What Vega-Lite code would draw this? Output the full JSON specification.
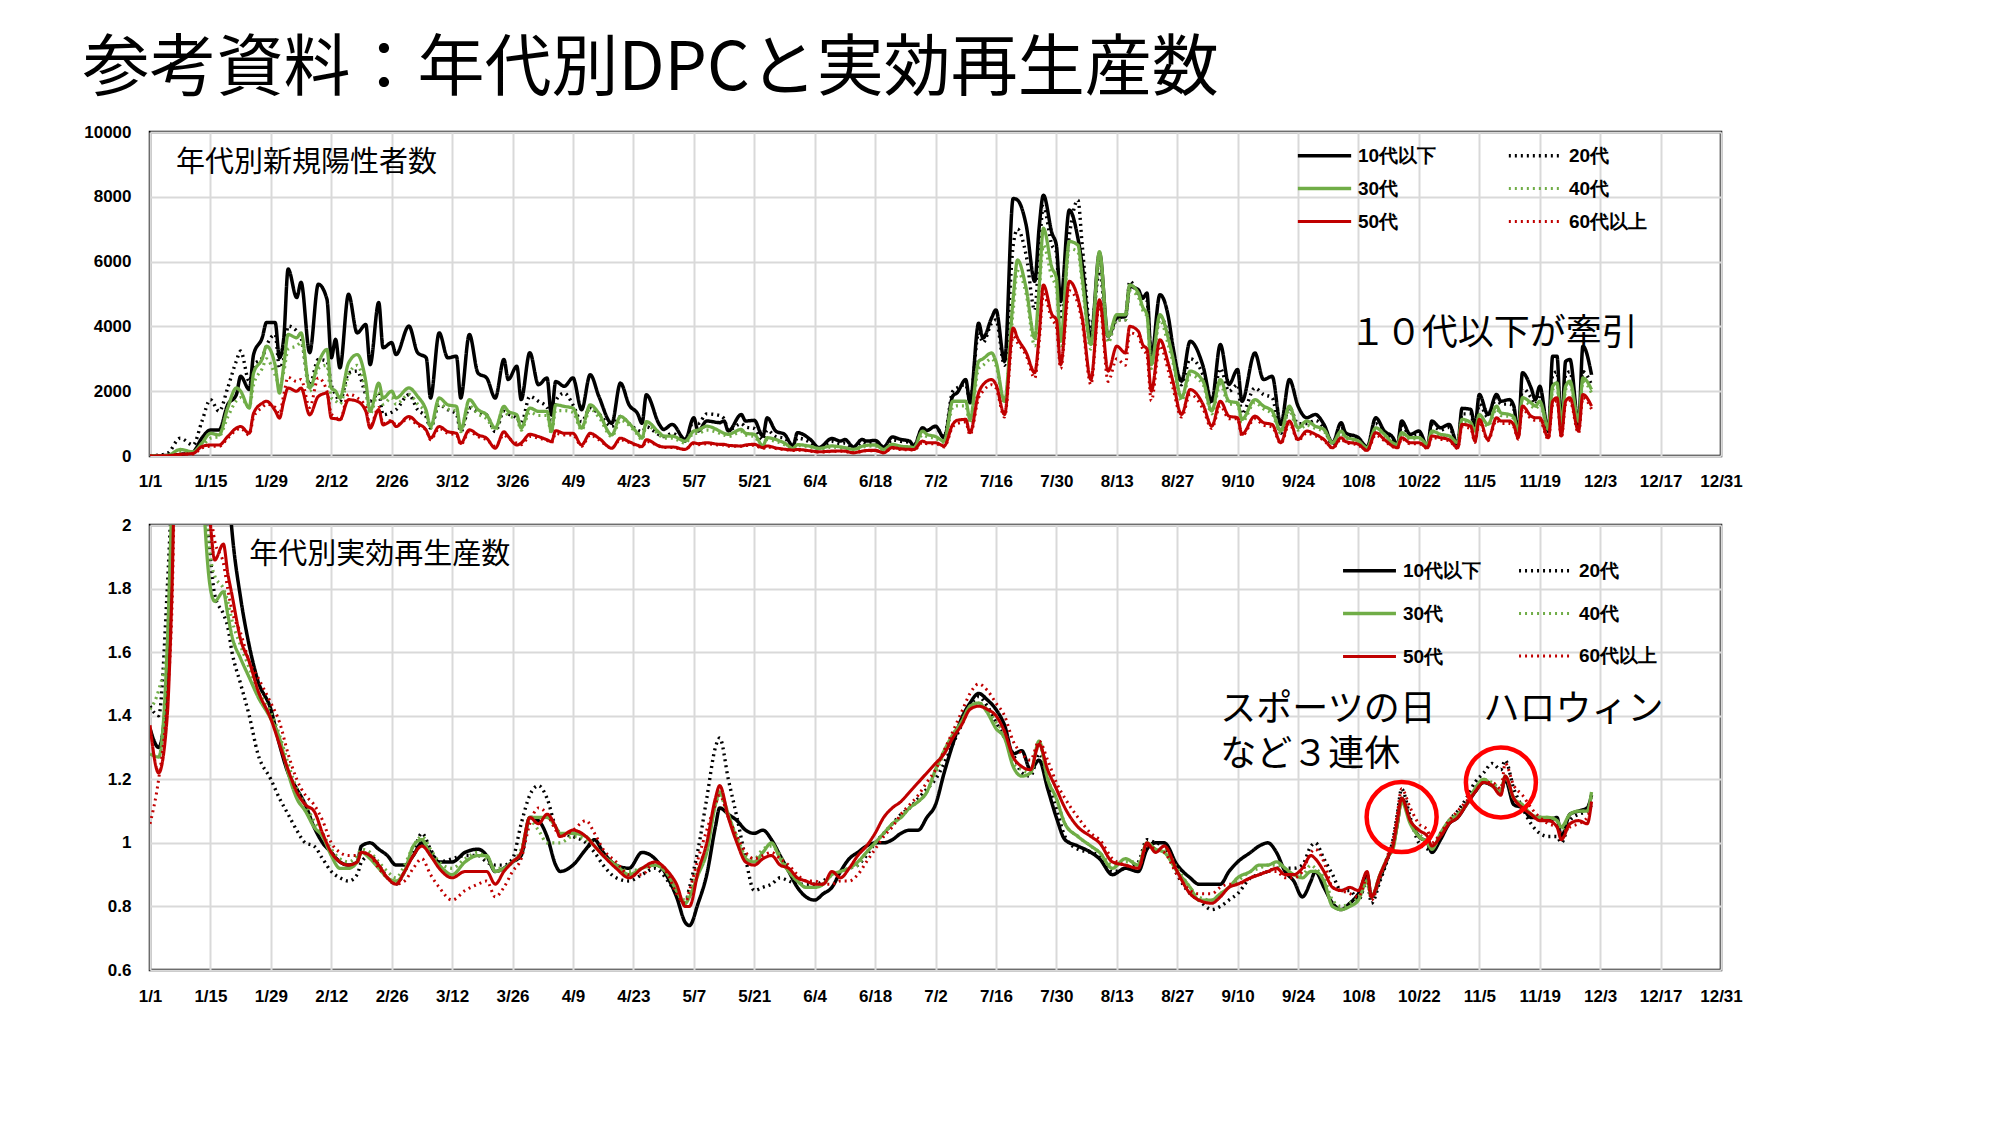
{
  "$schema": "https://vega.github.io/schema/vega-lite/v6.json",
  "background": "white",
  "padding": {"left": 82, "top": 35, "right": 10, "bottom": 10},
  "title": {
    "text": "参考資料：年代別DPCと実効再生産数",
    "anchor": "start",
    "font": "Noto Sans CJK JP",
    "fontSize": 67,
    "fontWeight": "normal",
    "color": "black",
    "offset": 18
  },
  "config": {
    "view": {"stroke": "black", "strokeWidth": 2.5},
    "axis": {
      "labelFont": "Liberation Sans",
      "labelFontWeight": "bold",
      "labelFontSize": 17,
      "labelColor": "black",
      "grid": true,
      "gridColor": "#d9d9d9",
      "gridWidth": 2,
      "ticks": false,
      "domain": false,
      "title": null
    },
    "legend": {
      "title": null,
      "orient": "none",
      "direction": "horizontal",
      "columns": 2,
      "symbolStrokeWidth": 3,
      "labelFont": "Liberation Sans",
      "labelFontWeight": "bold",
      "labelFontSize": 19,
      "labelColor": "black",
      "padding": 0
    }
  },
  "datasets": {
    "cases": [
      {"date": "2022-01-01", "10代以下": 0, "20代": 0, "30代": 0, "40代": 0, "50代": 0, "60代以上": 0},
      {"date": "2022-01-05", "10代以下": 20, "20代": 80, "30代": 15, "40代": 15, "50代": 10, "60代以上": 10},
      {"date": "2022-01-08", "10代以下": 50, "20代": 550, "30代": 200, "40代": 150, "50代": 50, "60代以上": 50},
      {"date": "2022-01-11", "10代以下": 130, "20代": 340, "30代": 130, "40代": 100, "50代": 80, "60代以上": 60},
      {"date": "2022-01-13", "10代以下": 550, "20代": 1060, "30代": 390, "40代": 300, "50代": 290, "60代以上": 250},
      {"date": "2022-01-15", "10代以下": 800, "20代": 1740, "30代": 700, "40代": 550, "50代": 340, "60代以上": 300},
      {"date": "2022-01-17", "10代以下": 800, "20代": 1380, "30代": 650, "40代": 600, "50代": 340, "60代以上": 300},
      {"date": "2022-01-19", "10代以下": 1580, "20代": 2100, "30代": 1480, "40代": 1200, "50代": 600, "60代以上": 550},
      {"date": "2022-01-21", "10代以下": 1890, "20代": 2930, "30代": 2100, "40代": 1700, "50代": 860, "60代以上": 800},
      {"date": "2022-01-22", "10代以下": 2460, "20代": 3240, "30代": 2000, "40代": 1800, "50代": 910, "60代以上": 850},
      {"date": "2022-01-24", "10代以下": 2050, "20代": 2300, "30代": 1480, "40代": 1500, "50代": 700, "60代以上": 650},
      {"date": "2022-01-25", "10代以下": 3130, "20代": 2800, "30代": 2560, "40代": 2200, "50代": 1320, "60代以上": 1200},
      {"date": "2022-01-27", "10代以下": 3650, "20代": 3030, "30代": 3000, "40代": 2700, "50代": 1630, "60代以上": 1500},
      {"date": "2022-01-28", "10代以下": 4120, "20代": 3400, "30代": 3390, "40代": 3000, "50代": 1690, "60代以上": 1600},
      {"date": "2022-01-30", "10代以下": 4120, "20代": 3750, "30代": 2800, "40代": 2500, "50代": 1400, "60代以上": 1500},
      {"date": "2022-01-31", "10代以下": 3030, "20代": 2720, "30代": 1940, "40代": 2200, "50代": 1170, "60代以上": 1300},
      {"date": "2022-02-01", "10代以下": 3650, "20代": 3000, "30代": 2800, "40代": 2600, "50代": 1700, "60代以上": 1900},
      {"date": "2022-02-02", "10代以下": 5770, "20代": 4010, "30代": 3750, "40代": 3300, "50代": 2100, "60代以上": 2430},
      {"date": "2022-02-04", "10代以下": 4890, "20代": 3860, "30代": 3650, "40代": 3400, "50代": 2000, "60代以上": 2300},
      {"date": "2022-02-05", "10代以下": 5360, "20代": 3650, "30代": 3800, "40代": 3500, "50代": 2100, "60代以上": 2360},
      {"date": "2022-02-07", "10代以下": 3190, "20代": 2200, "30代": 2100, "40代": 2000, "50代": 1270, "60代以上": 1500},
      {"date": "2022-02-09", "10代以下": 5300, "20代": 2980, "30代": 2870, "40代": 2700, "50代": 1840, "60代以上": 2410},
      {"date": "2022-02-11", "10代以下": 4840, "20代": 2930, "30代": 3290, "40代": 2800, "50代": 1940, "60代以上": 2000},
      {"date": "2022-02-12", "10代以下": 3030, "20代": 2200, "30代": 2100, "40代": 1800, "50代": 1170, "60代以上": 1300},
      {"date": "2022-02-13", "10代以下": 3600, "20代": 1900, "30代": 2000, "40代": 1700, "50代": 1150, "60代以上": 1200},
      {"date": "2022-02-14", "10代以下": 2720, "20代": 1690, "30代": 1790, "40代": 1600, "50代": 1120, "60代以上": 1100},
      {"date": "2022-02-16", "10代以下": 4990, "20代": 2560, "30代": 2870, "40代": 2500, "50代": 1740, "60代以上": 1900},
      {"date": "2022-02-18", "10代以下": 3800, "20代": 2620, "30代": 3130, "40代": 2800, "50代": 1690, "60代以上": 1800},
      {"date": "2022-02-20", "10代以下": 4060, "20代": 1900, "30代": 2300, "40代": 2000, "50代": 1380, "60代以上": 1500},
      {"date": "2022-02-21", "10代以下": 2820, "20代": 1690, "30代": 1380, "40代": 1300, "50代": 860, "60代以上": 900},
      {"date": "2022-02-23", "10代以下": 4740, "20代": 1940, "30代": 2250, "40代": 2000, "50代": 1430, "60代以上": 1500},
      {"date": "2022-02-24", "10代以下": 3340, "20代": 1270, "30代": 1790, "40代": 1600, "50代": 960, "60代以上": 1000},
      {"date": "2022-02-26", "10代以下": 3500, "20代": 1350, "30代": 2000, "40代": 1800, "50代": 1070, "60代以上": 1100},
      {"date": "2022-02-27", "10代以下": 3130, "20代": 1430, "30代": 1790, "40代": 1600, "50代": 910, "60代以上": 950},
      {"date": "2022-03-02", "10代以下": 4010, "20代": 1890, "30代": 2100, "40代": 1900, "50代": 1220, "60代以上": 1150},
      {"date": "2022-03-04", "10代以下": 3190, "20代": 1430, "30代": 1840, "40代": 1600, "50代": 1010, "60代以上": 950},
      {"date": "2022-03-06", "10代以下": 3030, "20代": 1200, "30代": 1400, "40代": 1300, "50代": 800, "60代以上": 800},
      {"date": "2022-03-07", "10代以下": 1790, "20代": 860, "30代": 910, "40代": 850, "50代": 550, "60代以上": 500},
      {"date": "2022-03-09", "10代以下": 3800, "20代": 1580, "30代": 1790, "40代": 1600, "50代": 910, "60代以上": 850},
      {"date": "2022-03-11", "10代以下": 3030, "20代": 1430, "30代": 1580, "40代": 1450, "50代": 750, "60代以上": 700},
      {"date": "2022-03-13", "10代以下": 3080, "20代": 1300, "30代": 1530, "40代": 1400, "50代": 700, "60代以上": 650},
      {"date": "2022-03-14", "10代以下": 1790, "20代": 750, "30代": 810, "40代": 750, "50代": 390, "60代以上": 350},
      {"date": "2022-03-16", "10代以下": 3750, "20代": 1480, "30代": 1740, "40代": 1550, "50代": 810, "60代以上": 750},
      {"date": "2022-03-18", "10代以下": 2560, "20代": 1350, "30代": 1430, "40代": 1300, "50代": 650, "60代以上": 600},
      {"date": "2022-03-20", "10代以下": 2410, "20代": 1270, "30代": 1270, "40代": 1150, "50代": 550, "60代以上": 500},
      {"date": "2022-03-22", "10代以下": 1790, "20代": 750, "30代": 860, "40代": 800, "50代": 240, "60代以上": 300},
      {"date": "2022-03-24", "10代以下": 2980, "20代": 1380, "30代": 1530, "40代": 1400, "50代": 750, "60代以上": 650},
      {"date": "2022-03-25", "10代以下": 2360, "20代": 1300, "30代": 1380, "40代": 1250, "50代": 600, "60代以上": 550},
      {"date": "2022-03-27", "10代以下": 2770, "20代": 1170, "30代": 1270, "40代": 1150, "50代": 340, "60代以上": 400},
      {"date": "2022-03-28", "10代以下": 1740, "20代": 1000, "30代": 860, "40代": 800, "50代": 400, "60代以上": 350},
      {"date": "2022-03-30", "10代以下": 3190, "20代": 1840, "30代": 1480, "40代": 1350, "50代": 670, "60代以上": 600},
      {"date": "2022-04-01", "10代以下": 2200, "20代": 1690, "30代": 1380, "40代": 1250, "50代": 600, "60代以上": 550},
      {"date": "2022-04-03", "10代以下": 2410, "20代": 1500, "30代": 1380, "40代": 1250, "50代": 500, "60代以上": 480},
      {"date": "2022-04-04", "10代以下": 1270, "20代": 1100, "30代": 750, "40代": 700, "50代": 440, "60代以上": 400},
      {"date": "2022-04-05", "10代以下": 2300, "20代": 1700, "30代": 1580, "40代": 1400, "50代": 780, "60代以上": 700},
      {"date": "2022-04-07", "10代以下": 2150, "20代": 1940, "30代": 1530, "40代": 1400, "50代": 700, "60代以上": 650},
      {"date": "2022-04-09", "10代以下": 2410, "20代": 1580, "30代": 1480, "40代": 1350, "50代": 700, "60代以上": 650},
      {"date": "2022-04-11", "10代以下": 1430, "20代": 1060, "30代": 860, "40代": 800, "50代": 340, "60代以上": 300},
      {"date": "2022-04-13", "10代以下": 2510, "20代": 1480, "30代": 1580, "40代": 1450, "50代": 700, "60代以上": 650},
      {"date": "2022-04-15", "10代以下": 1840, "20代": 1300, "30代": 1320, "40代": 1200, "50代": 550, "60代以上": 500},
      {"date": "2022-04-18", "10代以下": 1010, "20代": 910, "30代": 650, "40代": 600, "50代": 240, "60代以上": 250},
      {"date": "2022-04-20", "10代以下": 2250, "20代": 1220, "30代": 1220, "40代": 1100, "50代": 550, "60代以上": 500},
      {"date": "2022-04-22", "10代以下": 1580, "20代": 1000, "30代": 1010, "40代": 950, "50代": 440, "60代以上": 420},
      {"date": "2022-04-24", "10代以下": 1300, "20代": 800, "30代": 700, "40代": 650, "50代": 330, "60代以上": 300},
      {"date": "2022-04-25", "10代以下": 1010, "20代": 750, "30代": 550, "40代": 500, "50代": 290, "60代以上": 270},
      {"date": "2022-04-26", "10代以下": 1890, "20代": 900, "30代": 1060, "40代": 950, "50代": 500, "60代以上": 450},
      {"date": "2022-04-29", "10代以下": 975, "20代": 650, "30代": 720, "40代": 650, "50代": 310, "60代以上": 300},
      {"date": "2022-04-30", "10代以下": 820, "20代": 600, "30代": 615, "40代": 550, "50代": 280, "60代以上": 260},
      {"date": "2022-05-02", "10代以下": 975, "20代": 700, "30代": 615, "40代": 550, "50代": 280, "60代以上": 260},
      {"date": "2022-05-05", "10代以下": 510, "20代": 450, "30代": 460, "40代": 400, "50代": 205, "60代以上": 200},
      {"date": "2022-05-07", "10代以下": 1180, "20代": 1100, "30代": 770, "40代": 700, "50代": 410, "60代以上": 380},
      {"date": "2022-05-08", "10代以下": 770, "20代": 1000, "30代": 800, "40代": 700, "50代": 380, "60代以上": 350},
      {"date": "2022-05-10", "10代以下": 1080, "20代": 1300, "30代": 920, "40代": 800, "50代": 410, "60代以上": 380},
      {"date": "2022-05-13", "10代以下": 1030, "20代": 1250, "30代": 770, "40代": 700, "50代": 360, "60代以上": 340},
      {"date": "2022-05-14", "10代以下": 1080, "20代": 1150, "30代": 700, "40代": 650, "50代": 360, "60代以上": 340},
      {"date": "2022-05-15", "10代以下": 770, "20代": 800, "30代": 670, "40代": 600, "50代": 330, "60代以上": 300},
      {"date": "2022-05-18", "10代以下": 1280, "20代": 1000, "30代": 820, "40代": 750, "50代": 310, "60代以上": 300},
      {"date": "2022-05-19", "10代以下": 1080, "20代": 900, "30代": 700, "40代": 650, "50代": 340, "60代以上": 320},
      {"date": "2022-05-21", "10代以下": 1100, "20代": 850, "30代": 670, "40代": 600, "50代": 360, "60代以上": 330},
      {"date": "2022-05-23", "10代以下": 615, "20代": 500, "30代": 310, "40代": 280, "50代": 260, "60代以上": 230},
      {"date": "2022-05-24", "10代以下": 1180, "20代": 800, "30代": 565, "40代": 500, "50代": 310, "60代以上": 280},
      {"date": "2022-05-26", "10代以下": 770, "20代": 600, "30代": 510, "40代": 450, "50代": 250, "60代以上": 230},
      {"date": "2022-05-28", "10代以下": 670, "20代": 550, "30代": 400, "40代": 350, "50代": 210, "60代以上": 200},
      {"date": "2022-05-30", "10代以下": 310, "20代": 280, "30代": 235, "40代": 210, "50代": 185, "60代以上": 170},
      {"date": "2022-05-31", "10代以下": 720, "20代": 550, "30代": 350, "40代": 320, "50代": 200, "60代以上": 180},
      {"date": "2022-06-03", "10代以下": 510, "20代": 420, "30代": 300, "40代": 280, "50代": 160, "60代以上": 150},
      {"date": "2022-06-05", "10代以下": 260, "20代": 220, "30代": 235, "40代": 210, "50代": 130, "60代以上": 120},
      {"date": "2022-06-08", "10代以下": 540, "20代": 450, "30代": 310, "40代": 280, "50代": 150, "60代以上": 140},
      {"date": "2022-06-10", "10代以下": 460, "20代": 380, "30代": 280, "40代": 250, "50代": 155, "60代以上": 145},
      {"date": "2022-06-11", "10代以下": 510, "20代": 400, "30代": 260, "40代": 240, "50代": 150, "60代以上": 140},
      {"date": "2022-06-13", "10代以下": 280, "20代": 240, "30代": 205, "40代": 190, "50代": 100, "60代以上": 100},
      {"date": "2022-06-15", "10代以下": 510, "20代": 420, "30代": 300, "40代": 270, "50代": 150, "60代以上": 140},
      {"date": "2022-06-16", "10代以下": 460, "20代": 380, "30代": 330, "40代": 300, "50代": 170, "60代以上": 160},
      {"date": "2022-06-18", "10代以下": 480, "20代": 400, "30代": 340, "40代": 310, "50代": 175, "60代以上": 165},
      {"date": "2022-06-20", "10代以下": 280, "20代": 240, "30代": 205, "40代": 190, "50代": 100, "60代以上": 100},
      {"date": "2022-06-22", "10代以下": 585, "20代": 500, "30代": 360, "40代": 330, "50代": 260, "60代以上": 240},
      {"date": "2022-06-24", "10代以下": 510, "20代": 450, "30代": 300, "40代": 280, "50代": 220, "60代以上": 200},
      {"date": "2022-06-26", "10代以下": 460, "20代": 420, "30代": 280, "40代": 260, "50代": 205, "60代以上": 190},
      {"date": "2022-06-27", "10代以下": 310, "20代": 300, "30代": 260, "40代": 240, "50代": 200, "60代以上": 180},
      {"date": "2022-06-29", "10代以下": 870, "20代": 850, "30代": 770, "40代": 650, "50代": 460, "60代以上": 420},
      {"date": "2022-06-30", "10代以下": 790, "20代": 800, "30代": 670, "40代": 600, "50代": 410, "60代以上": 380},
      {"date": "2022-07-02", "10代以下": 920, "20代": 900, "30代": 600, "40代": 550, "50代": 410, "60代以上": 380},
      {"date": "2022-07-04", "10代以下": 560, "20代": 600, "30代": 460, "40代": 420, "50代": 310, "60代以上": 280},
      {"date": "2022-07-06", "10代以下": 1850, "20代": 2000, "30代": 1690, "40代": 1500, "50代": 975, "60代以上": 900},
      {"date": "2022-07-07", "10代以下": 1950, "20代": 2100, "30代": 1690, "40代": 1550, "50代": 1100, "60代以上": 1000},
      {"date": "2022-07-09", "10代以下": 2360, "20代": 2200, "30代": 1690, "40代": 1550, "50代": 1130, "60代以上": 1050},
      {"date": "2022-07-10", "10代以下": 1640, "20代": 1700, "30代": 1130, "40代": 1000, "50代": 720, "60代以上": 650},
      {"date": "2022-07-12", "10代以下": 4100, "20代": 3800, "30代": 2920, "40代": 2700, "50代": 1950, "60代以上": 1800},
      {"date": "2022-07-13", "10代以下": 3640, "20代": 3500, "30代": 3000, "40代": 2800, "50代": 2200, "60代以上": 2000},
      {"date": "2022-07-15", "10代以下": 4260, "20代": 4100, "30代": 3180, "40代": 3000, "50代": 2360, "60代以上": 2200},
      {"date": "2022-07-16", "10代以下": 4510, "20代": 4200, "30代": 2920, "40代": 2800, "50代": 2210, "60代以上": 2100},
      {"date": "2022-07-18", "10代以下": 2920, "20代": 2800, "30代": 1690, "40代": 1600, "50代": 1280, "60代以上": 1200},
      {"date": "2022-07-20", "10代以下": 7950, "20代": 6500, "30代": 4870, "40代": 4500, "50代": 3950, "60代以上": 3700},
      {"date": "2022-07-21", "10代以下": 7900, "20代": 7000, "30代": 6050, "40代": 5700, "50代": 3640, "60代以上": 3500},
      {"date": "2022-07-23", "10代以下": 7130, "20代": 6200, "30代": 5180, "40代": 5000, "50代": 3200, "60代以上": 3100},
      {"date": "2022-07-25", "10代以下": 5390, "20代": 4500, "30代": 3640, "40代": 3400, "50代": 2570, "60代以上": 2400},
      {"date": "2022-07-26", "10代以下": 7030, "20代": 6300, "30代": 5180, "40代": 5000, "50代": 3690, "60代以上": 3500},
      {"date": "2022-07-27", "10代以下": 8050, "20代": 7700, "30代": 7030, "40代": 6500, "50代": 5280, "60代以上": 5000},
      {"date": "2022-07-29", "10代以下": 6870, "20代": 6500, "30代": 5800, "40代": 5500, "50代": 4360, "60代以上": 4200},
      {"date": "2022-07-30", "10代以下": 6510, "20代": 6300, "30代": 5500, "40代": 5200, "50代": 4210, "60代以上": 4000},
      {"date": "2022-07-31", "10代以下": 4770, "20代": 4200, "30代": 3540, "40代": 3400, "50代": 2820, "60代以上": 2700},
      {"date": "2022-08-02", "10代以下": 7590, "20代": 6800, "30代": 6620, "40代": 6400, "50代": 5390, "60代以上": 5100},
      {"date": "2022-08-04", "10代以下": 6720, "20代": 7900, "30代": 6510, "40代": 6300, "50代": 4870, "60代以上": 4700},
      {"date": "2022-08-05", "10代以下": 5900, "20代": 6500, "30代": 5500, "40代": 5300, "50代": 4260, "60代以上": 4100},
      {"date": "2022-08-07", "10代以下": 3640, "20代": 3900, "30代": 3440, "40代": 3300, "50代": 2360, "60代以上": 2200},
      {"date": "2022-08-09", "10代以下": 6260, "20代": 5700, "30代": 6310, "40代": 6000, "50代": 4820, "60代以上": 4700},
      {"date": "2022-08-11", "10代以下": 3690, "20代": 3600, "30代": 3690, "40代": 3500, "50代": 2620, "60代以上": 2300},
      {"date": "2022-08-13", "10代以下": 4260, "20代": 4200, "30代": 4360, "40代": 4200, "50代": 3390, "60代以上": 3000},
      {"date": "2022-08-15", "10代以下": 4310, "20代": 4200, "30代": 4360, "40代": 4200, "50代": 3180, "60代以上": 2800},
      {"date": "2022-08-16", "10代以下": 5230, "20代": 5400, "30代": 5280, "40代": 5100, "50代": 4000, "60代以上": 3800},
      {"date": "2022-08-18", "10代以下": 5130, "20代": 5000, "30代": 5030, "40代": 4900, "50代": 3850, "60代以上": 3700},
      {"date": "2022-08-19", "10代以下": 4870, "20代": 4900, "30代": 4600, "40代": 4500, "50代": 3440, "60代以上": 3300},
      {"date": "2022-08-20", "10代以下": 5030, "20代": 4800, "30代": 4360, "40代": 4300, "50代": 3300, "60代以上": 3100},
      {"date": "2022-08-21", "10代以下": 3030, "20代": 3000, "30代": 2820, "40代": 2700, "50代": 2000, "60代以上": 1700},
      {"date": "2022-08-23", "10代以下": 4980, "20代": 4300, "30代": 4360, "40代": 4200, "50代": 3590, "60代以上": 3400},
      {"date": "2022-08-25", "10代以下": 4260, "20代": 3700, "30代": 3600, "40代": 3400, "50代": 2820, "60代以上": 2600},
      {"date": "2022-08-26", "10代以下": 3390, "20代": 3100, "30代": 3030, "40代": 2900, "50代": 2310, "60代以上": 2100},
      {"date": "2022-08-28", "10代以下": 2310, "20代": 2200, "30代": 1800, "40代": 1700, "50代": 1280, "60代以上": 1200},
      {"date": "2022-08-30", "10代以下": 3540, "20代": 3000, "30代": 2620, "40代": 2500, "50代": 2050, "60代以上": 1900},
      {"date": "2022-09-02", "10代以下": 2770, "20代": 2500, "30代": 2310, "40代": 2200, "50代": 1590, "60代以上": 1450},
      {"date": "2022-09-04", "10代以下": 1690, "20代": 1600, "30代": 1390, "40代": 1300, "50代": 920, "60代以上": 850},
      {"date": "2022-09-06", "10代以下": 3440, "20代": 2700, "30代": 2360, "40代": 2200, "50代": 1690, "60代以上": 1550},
      {"date": "2022-09-08", "10代以下": 2210, "20代": 2000, "30代": 1690, "40代": 1600, "50代": 1230, "60代以上": 1150},
      {"date": "2022-09-10", "10代以下": 2670, "20代": 2200, "30代": 1640, "40代": 1600, "50代": 1180, "60代以上": 1150},
      {"date": "2022-09-11", "10代以下": 1690, "20代": 1300, "30代": 1130, "40代": 1050, "50代": 670, "60代以上": 620},
      {"date": "2022-09-14", "10代以下": 3180, "20代": 2100, "30代": 1740, "40代": 1650, "50代": 1230, "60代以上": 1150},
      {"date": "2022-09-16", "10代以下": 2360, "20代": 1900, "30代": 1540, "40代": 1450, "50代": 1030, "60代以上": 950},
      {"date": "2022-09-18", "10代以下": 2460, "20代": 1800, "30代": 1390, "40代": 1300, "50代": 975, "60代以上": 900},
      {"date": "2022-09-20", "10代以下": 975, "20代": 700, "30代": 770, "40代": 700, "50代": 410, "60代以上": 380},
      {"date": "2022-09-22", "10代以下": 2360, "20代": 1500, "30代": 1540, "40代": 1400, "50代": 1080, "60代以上": 1000},
      {"date": "2022-09-24", "10代以下": 1540, "20代": 1000, "30代": 870, "40代": 800, "50代": 510, "60代以上": 480},
      {"date": "2022-09-26", "10代以下": 1180, "20代": 1000, "30代": 1080, "40代": 950, "50代": 770, "60代以上": 700},
      {"date": "2022-09-28", "10代以下": 1280, "20代": 1100, "30代": 920, "40代": 850, "50代": 670, "60代以上": 620},
      {"date": "2022-09-30", "10代以下": 975, "20代": 850, "30代": 820, "40代": 760, "50代": 510, "60代以上": 480},
      {"date": "2022-10-02", "10代以下": 410, "20代": 350, "30代": 410, "40代": 380, "50代": 255, "60代以上": 240},
      {"date": "2022-10-04", "10代以下": 1030, "20代": 850, "30代": 770, "40代": 700, "50代": 565, "60代以上": 520},
      {"date": "2022-10-05", "10代以下": 720, "20代": 650, "30代": 600, "40代": 560, "50代": 450, "60代以上": 420},
      {"date": "2022-10-08", "10代以下": 565, "20代": 500, "30代": 460, "40代": 430, "50代": 360, "60代以上": 330},
      {"date": "2022-10-10", "10代以下": 280, "20代": 250, "30代": 255, "40代": 240, "50代": 175, "60代以上": 160},
      {"date": "2022-10-12", "10代以下": 1180, "20代": 1000, "30代": 870, "40代": 800, "50代": 720, "60代以上": 650},
      {"date": "2022-10-14", "10代以下": 770, "20代": 700, "30代": 670, "40代": 620, "50代": 510, "60代以上": 470},
      {"date": "2022-10-16", "10代以下": 565, "20代": 520, "30代": 400, "40代": 380, "50代": 300, "60代以上": 280},
      {"date": "2022-10-17", "10代以下": 310, "20代": 300, "30代": 360, "40代": 330, "50代": 255, "60代以上": 230},
      {"date": "2022-10-18", "10代以下": 1080, "20代": 950, "30代": 720, "40代": 680, "50代": 565, "60代以上": 530},
      {"date": "2022-10-20", "10代以下": 670, "20代": 620, "30代": 565, "40代": 530, "50代": 410, "60代以上": 380},
      {"date": "2022-10-22", "10代以下": 770, "20代": 700, "30代": 565, "40代": 530, "50代": 410, "60代以上": 380},
      {"date": "2022-10-24", "10代以下": 310, "20代": 300, "30代": 360, "40代": 330, "50代": 255, "60代以上": 230},
      {"date": "2022-10-25", "10代以下": 1080, "20代": 950, "30代": 770, "40代": 720, "50代": 615, "60代以上": 570},
      {"date": "2022-10-27", "10代以下": 870, "20代": 800, "30代": 670, "40代": 630, "50代": 565, "60代以上": 520},
      {"date": "2022-10-29", "10代以下": 975, "20代": 880, "30代": 620, "40代": 600, "50代": 500, "60代以上": 470},
      {"date": "2022-10-31", "10代以下": 360, "20代": 350, "30代": 410, "40代": 380, "50代": 255, "60代以上": 230},
      {"date": "2022-11-01", "10代以下": 1470, "20代": 1300, "30代": 1130, "40代": 1050, "50代": 975, "60代以上": 900},
      {"date": "2022-11-03", "10代以下": 1440, "20代": 1300, "30代": 1030, "40代": 980, "50代": 920, "60代以上": 850},
      {"date": "2022-11-04", "10代以下": 920, "20代": 850, "30代": 770, "40代": 720, "50代": 460, "60代以上": 420},
      {"date": "2022-11-05", "10代以下": 1900, "20代": 1600, "30代": 1280, "40代": 1200, "50代": 1130, "60代以上": 1050},
      {"date": "2022-11-07", "10代以下": 1280, "20代": 1200, "30代": 975, "40代": 920, "50代": 510, "60代以上": 470},
      {"date": "2022-11-09", "10代以下": 1900, "20代": 1800, "30代": 1540, "40代": 1450, "50代": 1180, "60代以上": 1100},
      {"date": "2022-11-10", "10代以下": 1690, "20代": 1600, "30代": 1330, "40代": 1250, "50代": 1080, "60代以上": 1000},
      {"date": "2022-11-12", "10代以下": 1740, "20代": 1600, "30代": 1280, "40代": 1220, "50代": 1080, "60代以上": 1000},
      {"date": "2022-11-13", "10代以下": 1540, "20代": 1450, "30代": 1200, "40代": 1150, "50代": 950, "60代以上": 900},
      {"date": "2022-11-14", "10代以下": 670, "20代": 650, "30代": 770, "40代": 720, "50代": 565, "60代以上": 520},
      {"date": "2022-11-15", "10代以下": 2570, "20代": 2100, "30代": 1800, "40代": 1700, "50代": 1540, "60代以上": 1450},
      {"date": "2022-11-17", "10代以下": 2100, "20代": 1800, "30代": 1640, "40代": 1550, "50代": 1230, "60代以上": 1150},
      {"date": "2022-11-18", "10代以下": 1740, "20代": 1600, "30代": 1540, "40代": 1450, "50代": 1180, "60代以上": 1100},
      {"date": "2022-11-19", "10代以下": 2150, "20代": 1900, "30代": 1690, "40代": 1600, "50代": 1180, "60代以上": 1100},
      {"date": "2022-11-21", "10代以下": 770, "20代": 750, "30代": 870, "40代": 820, "50代": 565, "60代以上": 520},
      {"date": "2022-11-22", "10代以下": 3080, "20代": 2500, "30代": 2150, "40代": 2050, "50代": 1690, "60代以上": 1600},
      {"date": "2022-11-23", "10代以下": 3080, "20代": 2600, "30代": 2260, "40代": 2150, "50代": 1800, "60代以上": 1700},
      {"date": "2022-11-24", "10代以下": 770, "20代": 800, "30代": 975, "40代": 900, "50代": 615, "60代以上": 560},
      {"date": "2022-11-25", "10代以下": 2920, "20代": 2500, "30代": 2150, "40代": 2050, "50代": 1690, "60代以上": 1600},
      {"date": "2022-11-26", "10代以下": 2980, "20代": 2600, "30代": 2310, "40代": 2200, "50代": 1800, "60代以上": 1700},
      {"date": "2022-11-28", "10代以下": 975, "20代": 900, "30代": 1080, "40代": 1000, "50代": 770, "60代以上": 700},
      {"date": "2022-11-29", "10代以下": 3390, "20代": 2600, "30代": 2410, "40代": 2300, "50代": 1900, "60代以上": 1800},
      {"date": "2022-12-01", "10代以下": 2510, "20代": 2200, "30代": 2050, "40代": 1950, "50代": 1540, "60代以上": 1450}
    ],
    "rt": [
      {"date": "2022-01-01", "10代以下": 1.36, "20代": 1.43, "30代": 1.28, "40代": 1.42, "50代": 1.37, "60代以上": 1.06},
      {"date": "2022-01-03", "10代以下": 1.30, "20代": 1.40, "30代": 1.27, "40代": 1.48, "50代": 1.22, "60代以上": 1.20},
      {"date": "2022-01-05", "10代以下": 1.50, "20代": 1.80, "30代": 1.62, "40代": 1.62, "50代": 1.40, "60代以上": 1.45},
      {"date": "2022-01-06", "10代以下": 1.90, "20代": 2.10, "30代": 2.05, "40代": 2.00, "50代": 1.75, "60代以上": 1.70},
      {"date": "2022-01-08", "10代以下": 3.0, "20代": 3.0, "30代": 3.0, "40代": 3.0, "50代": 3.0, "60代以上": 3.0},
      {"date": "2022-01-11", "10代以下": 3.5, "20代": 3.0, "30代": 3.0, "40代": 3.0, "50代": 3.0, "60代以上": 3.0},
      {"date": "2022-01-13", "10代以下": 3.5, "20代": 2.3, "30代": 2.2, "40代": 2.3, "50代": 2.3, "60代以上": 2.4},
      {"date": "2022-01-15", "10代以下": 3.0, "20代": 1.90, "30代": 1.80, "40代": 1.90, "50代": 2.00, "60代以上": 2.05},
      {"date": "2022-01-16", "10代以下": 2.7, "20代": 1.78, "30代": 1.76, "40代": 1.84, "50代": 1.89, "60代以上": 1.95},
      {"date": "2022-01-18", "10代以下": 2.3, "20代": 1.72, "30代": 1.79, "40代": 1.80, "50代": 1.94, "60代以上": 1.88},
      {"date": "2022-01-19", "10代以下": 2.15, "20代": 1.68, "30代": 1.72, "40代": 1.76, "50代": 1.85, "60代以上": 1.80},
      {"date": "2022-01-20", "10代以下": 1.98, "20代": 1.60, "30代": 1.65, "40代": 1.70, "50代": 1.78, "60代以上": 1.73},
      {"date": "2022-01-22", "10代以下": 1.77, "20代": 1.50, "30代": 1.58, "40代": 1.62, "50代": 1.64, "60代以上": 1.66},
      {"date": "2022-01-24", "10代以下": 1.62, "20代": 1.40, "30代": 1.52, "40代": 1.55, "50代": 1.57, "60代以上": 1.57},
      {"date": "2022-01-26", "10代以下": 1.51, "20代": 1.28, "30代": 1.46, "40代": 1.48, "50代": 1.48, "60代以上": 1.52},
      {"date": "2022-01-29", "10代以下": 1.42, "20代": 1.20, "30代": 1.39, "40代": 1.41, "50代": 1.39, "60代以上": 1.44},
      {"date": "2022-01-31", "10代以下": 1.31, "20代": 1.14, "30代": 1.33, "40代": 1.34, "50代": 1.31, "60代以上": 1.38},
      {"date": "2022-02-02", "10代以下": 1.22, "20代": 1.09, "30代": 1.22, "40代": 1.25, "50代": 1.23, "60代以上": 1.28},
      {"date": "2022-02-04", "10代以下": 1.17, "20代": 1.04, "30代": 1.14, "40代": 1.17, "50代": 1.16, "60代以上": 1.20},
      {"date": "2022-02-06", "10代以下": 1.12, "20代": 1.00, "30代": 1.10, "40代": 1.12, "50代": 1.12, "60代以上": 1.15},
      {"date": "2022-02-08", "10代以下": 1.05, "20代": 0.99, "30代": 1.05, "40代": 1.07, "50代": 1.10, "60代以上": 1.12},
      {"date": "2022-02-10", "10代以下": 1.00, "20代": 0.95, "30代": 1.02, "40代": 1.03, "50代": 1.03, "60代以上": 1.07},
      {"date": "2022-02-12", "10代以下": 0.97, "20代": 0.91, "30代": 0.96, "40代": 0.98, "50代": 0.97, "60代以上": 1.00},
      {"date": "2022-02-14", "10代以下": 0.94, "20代": 0.89, "30代": 0.92, "40代": 0.95, "50代": 0.94, "60代以上": 0.97},
      {"date": "2022-02-16", "10代以下": 0.93, "20代": 0.88, "30代": 0.92, "40代": 0.94, "50代": 0.93, "60代以上": 0.96},
      {"date": "2022-02-18", "10代以下": 0.94, "20代": 0.90, "30代": 0.94, "40代": 0.96, "50代": 0.94, "60代以上": 0.96},
      {"date": "2022-02-19", "10代以下": 0.99, "20代": 0.94, "30代": 0.97, "40代": 0.98, "50代": 0.97, "60代以上": 0.97},
      {"date": "2022-02-21", "10代以下": 1.00, "20代": 0.96, "30代": 0.95, "40代": 0.97, "50代": 0.96, "60代以上": 0.96},
      {"date": "2022-02-23", "10代以下": 0.98, "20代": 0.93, "30代": 0.92, "40代": 0.94, "50代": 0.93, "60代以上": 0.92},
      {"date": "2022-02-25", "10代以下": 0.96, "20代": 0.89, "30代": 0.89, "40代": 0.91, "50代": 0.89, "60代以上": 0.89},
      {"date": "2022-02-27", "10代以下": 0.93, "20代": 0.87, "30代": 0.88, "40代": 0.89, "50代": 0.87, "60代以上": 0.87},
      {"date": "2022-03-01", "10代以下": 0.93, "20代": 0.91, "30代": 0.91, "40代": 0.93, "50代": 0.91, "60代以上": 0.88},
      {"date": "2022-03-03", "10代以下": 0.96, "20代": 0.97, "30代": 0.99, "40代": 0.99, "50代": 0.96, "60代以上": 0.92},
      {"date": "2022-03-05", "10代以下": 1.00, "20代": 1.03, "30代": 1.01, "40代": 1.02, "50代": 0.99, "60代以上": 0.95},
      {"date": "2022-03-07", "10代以下": 0.97, "20代": 0.98, "30代": 0.96, "40代": 0.98, "50代": 0.96, "60代以上": 0.90},
      {"date": "2022-03-09", "10代以下": 0.94, "20代": 0.94, "30代": 0.93, "40代": 0.94, "50代": 0.92, "60代以上": 0.86},
      {"date": "2022-03-12", "10代以下": 0.94, "20代": 0.95, "30代": 0.90, "40代": 0.92, "50代": 0.89, "60代以上": 0.82},
      {"date": "2022-03-15", "10代以下": 0.97, "20代": 0.96, "30代": 0.94, "40代": 0.95, "50代": 0.91, "60代以上": 0.85},
      {"date": "2022-03-18", "10代以下": 0.98, "20代": 0.96, "30代": 0.96, "40代": 0.97, "50代": 0.91, "60代以上": 0.87},
      {"date": "2022-03-20", "10代以下": 0.96, "20代": 0.94, "30代": 0.96, "40代": 0.95, "50代": 0.91, "60代以上": 0.88},
      {"date": "2022-03-22", "10代以下": 0.91, "20代": 0.93, "30代": 0.91, "40代": 0.92, "50代": 0.87, "60代以上": 0.83},
      {"date": "2022-03-24", "10代以下": 0.92, "20代": 0.93, "30代": 0.92, "40代": 0.92, "50代": 0.91, "60代以上": 0.86},
      {"date": "2022-03-26", "10代以下": 0.94, "20代": 0.95, "30代": 0.94, "40代": 0.94, "50代": 0.94, "60代以上": 0.91},
      {"date": "2022-03-28", "10代以下": 0.96, "20代": 1.06, "30代": 0.97, "40代": 0.98, "50代": 0.97, "60代以上": 0.95},
      {"date": "2022-03-30", "10代以下": 1.08, "20代": 1.15, "30代": 1.08, "40代": 1.07, "50代": 1.08, "60代以上": 1.06},
      {"date": "2022-04-01", "10代以下": 1.07, "20代": 1.18, "30代": 1.08, "40代": 1.04, "50代": 1.06, "60代以上": 1.11},
      {"date": "2022-04-03", "10代以下": 1.02, "20代": 1.14, "30代": 1.08, "40代": 1.00, "50代": 1.09, "60代以上": 1.09},
      {"date": "2022-04-05", "10代以下": 0.93, "20代": 1.05, "30代": 1.05, "40代": 1.00, "50代": 1.05, "60代以上": 1.04},
      {"date": "2022-04-06", "10代以下": 0.91, "20代": 1.03, "30代": 1.03, "40代": 1.00, "50代": 1.02, "60代以上": 1.02},
      {"date": "2022-04-09", "10代以下": 0.93, "20代": 1.02, "30代": 1.03, "40代": 1.02, "50代": 1.04, "60代以上": 1.04},
      {"date": "2022-04-12", "10代以下": 0.98, "20代": 1.00, "30代": 1.02, "40代": 1.01, "50代": 1.02, "60代以上": 1.07},
      {"date": "2022-04-14", "10代以下": 1.01, "20代": 0.97, "30代": 0.99, "40代": 0.99, "50代": 0.99, "60代以上": 1.03},
      {"date": "2022-04-16", "10代以下": 0.97, "20代": 0.93, "30代": 0.96, "40代": 0.96, "50代": 0.96, "60代以上": 0.98},
      {"date": "2022-04-19", "10代以下": 0.93, "20代": 0.89, "30代": 0.93, "40代": 0.93, "50代": 0.92, "60代以上": 0.94},
      {"date": "2022-04-22", "10代以下": 0.92, "20代": 0.88, "30代": 0.90, "40代": 0.91, "50代": 0.89, "60代以上": 0.90},
      {"date": "2022-04-25", "10代以下": 0.97, "20代": 0.90, "30代": 0.92, "40代": 0.92, "50代": 0.92, "60代以上": 0.90},
      {"date": "2022-04-28", "10代以下": 0.95, "20代": 0.92, "30代": 0.93, "40代": 0.93, "50代": 0.94, "60代以上": 0.94},
      {"date": "2022-05-01", "10代以下": 0.89, "20代": 0.88, "30代": 0.90, "40代": 0.90, "50代": 0.91, "60代以上": 0.90},
      {"date": "2022-05-03", "10代以下": 0.83, "20代": 0.84, "30代": 0.85, "40代": 0.85, "50代": 0.87, "60代以上": 0.84},
      {"date": "2022-05-05", "10代以下": 0.75, "20代": 0.81, "30代": 0.81, "40代": 0.82, "50代": 0.80, "60代以上": 0.81},
      {"date": "2022-05-06", "10代以下": 0.74, "20代": 0.86, "30代": 0.83, "40代": 0.84, "50代": 0.80, "60代以上": 0.85},
      {"date": "2022-05-08", "10代以下": 0.81, "20代": 0.98, "30代": 0.90, "40代": 0.92, "50代": 0.91, "60代以上": 0.95},
      {"date": "2022-05-10", "10代以下": 0.90, "20代": 1.14, "30代": 0.97, "40代": 0.99, "50代": 1.00, "60代以上": 1.04},
      {"date": "2022-05-12", "10代以下": 1.05, "20代": 1.30, "30代": 1.12, "40代": 1.12, "50代": 1.14, "60代以上": 1.12},
      {"date": "2022-05-13", "10代以下": 1.11, "20代": 1.33, "30代": 1.16, "40代": 1.15, "50代": 1.18, "60代以上": 1.15},
      {"date": "2022-05-15", "10代以下": 1.09, "20代": 1.20, "30代": 1.09, "40代": 1.08, "50代": 1.08, "60代以上": 1.08},
      {"date": "2022-05-17", "10代以下": 1.07, "20代": 1.08, "30代": 1.01, "40代": 1.02, "50代": 1.00, "60代以上": 1.02},
      {"date": "2022-05-19", "10代以下": 1.04, "20代": 0.95, "30代": 0.95, "40代": 0.96, "50代": 0.94, "60代以上": 0.97},
      {"date": "2022-05-21", "10代以下": 1.03, "20代": 0.85, "30代": 0.94, "40代": 0.95, "50代": 0.93, "60代以上": 0.95},
      {"date": "2022-05-23", "10代以下": 1.04, "20代": 0.86, "30代": 0.97, "40代": 0.98, "50代": 0.95, "60代以上": 0.96},
      {"date": "2022-05-25", "10代以下": 1.01, "20代": 0.87, "30代": 1.00, "40代": 0.99, "50代": 0.96, "60代以上": 0.97},
      {"date": "2022-05-27", "10代以下": 0.96, "20代": 0.89, "30代": 0.95, "40代": 0.96, "50代": 0.93, "60代以上": 0.95},
      {"date": "2022-05-29", "10代以下": 0.91, "20代": 0.88, "30代": 0.91, "40代": 0.91, "50代": 0.92, "60代以上": 0.93},
      {"date": "2022-05-31", "10代以下": 0.86, "20代": 0.87, "30代": 0.88, "40代": 0.88, "50代": 0.89, "60代以上": 0.90},
      {"date": "2022-06-02", "10代以下": 0.83, "20代": 0.87, "30代": 0.86, "40代": 0.86, "50代": 0.88, "60代以上": 0.88},
      {"date": "2022-06-04", "10代以下": 0.82, "20代": 0.87, "30代": 0.86, "40代": 0.86, "50代": 0.87, "60代以上": 0.88},
      {"date": "2022-06-06", "10代以下": 0.84, "20代": 0.88, "30代": 0.87, "40代": 0.87, "50代": 0.87, "60代以上": 0.87},
      {"date": "2022-06-08", "10代以下": 0.86, "20代": 0.90, "30代": 0.90, "40代": 0.90, "50代": 0.91, "60代以上": 0.87},
      {"date": "2022-06-10", "10代以下": 0.91, "20代": 0.91, "30代": 0.91, "40代": 0.91, "50代": 0.89, "60代以上": 0.88},
      {"date": "2022-06-12", "10代以下": 0.95, "20代": 0.92, "30代": 0.92, "40代": 0.92, "50代": 0.92, "60代以上": 0.88},
      {"date": "2022-06-14", "10代以下": 0.97, "20代": 0.93, "30代": 0.94, "40代": 0.93, "50代": 0.96, "60代以上": 0.90},
      {"date": "2022-06-16", "10代以下": 0.99, "20代": 0.96, "30代": 0.97, "40代": 0.97, "50代": 0.99, "60代以上": 0.94},
      {"date": "2022-06-18", "10代以下": 1.00, "20代": 1.00, "30代": 1.00, "40代": 1.00, "50代": 1.03, "60代以上": 0.98},
      {"date": "2022-06-20", "10代以下": 1.00, "20代": 1.03, "30代": 1.03, "40代": 1.03, "50代": 1.08, "60代以上": 1.02},
      {"date": "2022-06-22", "10代以下": 1.01, "20代": 1.06, "30代": 1.06, "40代": 1.06, "50代": 1.11, "60代以上": 1.05},
      {"date": "2022-06-24", "10代以下": 1.03, "20代": 1.09, "30代": 1.08, "40代": 1.08, "50代": 1.13, "60代以上": 1.09},
      {"date": "2022-06-26", "10代以下": 1.04, "20代": 1.11, "30代": 1.11, "40代": 1.11, "50代": 1.16, "60代以上": 1.12},
      {"date": "2022-06-28", "10代以下": 1.04, "20代": 1.14, "30代": 1.13, "40代": 1.13, "50代": 1.19, "60代以上": 1.15},
      {"date": "2022-06-30", "10代以下": 1.08, "20代": 1.17, "30代": 1.16, "40代": 1.16, "50代": 1.22, "60代以上": 1.19},
      {"date": "2022-07-02", "10代以下": 1.12, "20代": 1.20, "30代": 1.23, "40代": 1.22, "50代": 1.25, "60代以上": 1.23},
      {"date": "2022-07-04", "10代以下": 1.22, "20代": 1.25, "30代": 1.29, "40代": 1.28, "50代": 1.28, "60代以上": 1.29},
      {"date": "2022-07-06", "10代以下": 1.31, "20代": 1.31, "30代": 1.34, "40代": 1.34, "50代": 1.33, "60代以上": 1.35},
      {"date": "2022-07-08", "10代以下": 1.39, "20代": 1.37, "30代": 1.38, "40代": 1.38, "50代": 1.37, "60代以上": 1.41},
      {"date": "2022-07-10", "10代以下": 1.44, "20代": 1.43, "30代": 1.43, "40代": 1.43, "50代": 1.42, "60代以上": 1.47},
      {"date": "2022-07-12", "10代以下": 1.47, "20代": 1.46, "30代": 1.44, "40代": 1.44, "50代": 1.43, "60代以上": 1.50},
      {"date": "2022-07-14", "10代以下": 1.45, "20代": 1.43, "30代": 1.41, "40代": 1.42, "50代": 1.42, "60代以上": 1.48},
      {"date": "2022-07-16", "10代以下": 1.42, "20代": 1.38, "30代": 1.36, "40代": 1.38, "50代": 1.40, "60代以上": 1.44},
      {"date": "2022-07-18", "10代以下": 1.37, "20代": 1.33, "30代": 1.33, "40代": 1.34, "50代": 1.35, "60代以上": 1.40},
      {"date": "2022-07-20", "10代以下": 1.28, "20代": 1.28, "30代": 1.24, "40代": 1.25, "50代": 1.27, "60代以上": 1.32},
      {"date": "2022-07-22", "10代以下": 1.29, "20代": 1.22, "30代": 1.21, "40代": 1.23, "50代": 1.24, "60代以上": 1.28},
      {"date": "2022-07-24", "10代以下": 1.23, "20代": 1.21, "30代": 1.22, "40代": 1.22, "50代": 1.23, "60代以上": 1.26},
      {"date": "2022-07-26", "10代以下": 1.26, "20代": 1.28, "30代": 1.32, "40代": 1.31, "50代": 1.31, "60代以上": 1.32},
      {"date": "2022-07-28", "10代以下": 1.17, "20代": 1.20, "30代": 1.20, "40代": 1.20, "50代": 1.23, "60代以上": 1.26},
      {"date": "2022-07-30", "10代以下": 1.08, "20代": 1.11, "30代": 1.14, "40代": 1.14, "50代": 1.17, "60代以上": 1.19},
      {"date": "2022-08-01", "10代以下": 1.01, "20代": 1.02, "30代": 1.06, "40代": 1.06, "50代": 1.11, "60代以上": 1.14},
      {"date": "2022-08-04", "10代以下": 0.99, "20代": 0.98, "30代": 1.02, "40代": 1.02, "50代": 1.05, "60代以上": 1.08},
      {"date": "2022-08-07", "10代以下": 0.97, "20代": 0.97, "30代": 0.99, "40代": 0.99, "50代": 1.02, "60代以上": 1.03},
      {"date": "2022-08-09", "10代以下": 0.95, "20代": 0.96, "30代": 0.97, "40代": 0.97, "50代": 1.00, "60代以上": 1.01},
      {"date": "2022-08-12", "10代以下": 0.90, "20代": 0.91, "30代": 0.92, "40代": 0.93, "50代": 0.94, "60代以上": 0.95},
      {"date": "2022-08-15", "10代以下": 0.92, "20代": 0.92, "30代": 0.95, "40代": 0.94, "50代": 0.93, "60代以上": 0.93},
      {"date": "2022-08-18", "10代以下": 0.91, "20代": 0.94, "30代": 0.93, "40代": 0.94, "50代": 0.92, "60代以上": 0.92},
      {"date": "2022-08-20", "10代以下": 0.98, "20代": 1.01, "30代": 1.00, "40代": 1.00, "50代": 1.00, "60代以上": 0.99},
      {"date": "2022-08-22", "10代以下": 1.00, "20代": 1.00, "30代": 0.98, "40代": 0.98, "50代": 0.97, "60代以上": 0.98},
      {"date": "2022-08-24", "10代以下": 1.00, "20代": 0.99, "30代": 0.97, "40代": 0.98, "50代": 0.99, "60代以上": 0.97},
      {"date": "2022-08-27", "10代以下": 0.93, "20代": 0.90, "30代": 0.91, "40代": 0.92, "50代": 0.91, "60代以上": 0.90},
      {"date": "2022-08-30", "10代以下": 0.89, "20代": 0.84, "30代": 0.86, "40代": 0.86, "50代": 0.84, "60代以上": 0.85},
      {"date": "2022-09-01", "10代以下": 0.87, "20代": 0.82, "30代": 0.82, "40代": 0.83, "50代": 0.82, "60代以上": 0.84},
      {"date": "2022-09-04", "10代以下": 0.87, "20代": 0.79, "30代": 0.82, "40代": 0.82, "50代": 0.81, "60代以上": 0.84},
      {"date": "2022-09-06", "10代以下": 0.87, "20代": 0.80, "30代": 0.84, "40代": 0.84, "50代": 0.83, "60代以上": 0.86},
      {"date": "2022-09-08", "10代以下": 0.91, "20代": 0.82, "30代": 0.86, "40代": 0.86, "50代": 0.86, "60代以上": 0.87},
      {"date": "2022-09-10", "10代以下": 0.94, "20代": 0.84, "30代": 0.89, "40代": 0.88, "50代": 0.87, "60代以上": 0.87},
      {"date": "2022-09-13", "10代以下": 0.97, "20代": 0.89, "30代": 0.91, "40代": 0.91, "50代": 0.89, "60代以上": 0.89},
      {"date": "2022-09-15", "10代以下": 0.99, "20代": 0.90, "30代": 0.93, "40代": 0.92, "50代": 0.90, "60代以上": 0.90},
      {"date": "2022-09-17", "10代以下": 1.00, "20代": 0.91, "30代": 0.93, "40代": 0.93, "50代": 0.91, "60代以上": 0.91},
      {"date": "2022-09-19", "10代以下": 0.97, "20代": 0.92, "30代": 0.94, "40代": 0.93, "50代": 0.92, "60代以上": 0.91},
      {"date": "2022-09-21", "10代以下": 0.91, "20代": 0.92, "30代": 0.92, "40代": 0.92, "50代": 0.90, "60代以上": 0.89},
      {"date": "2022-09-23", "10代以下": 0.88, "20代": 0.92, "30代": 0.90, "40代": 0.90, "50代": 0.90, "60代以上": 0.89},
      {"date": "2022-09-25", "10代以下": 0.83, "20代": 0.93, "30代": 0.89, "40代": 0.90, "50代": 0.92, "60代以上": 0.91},
      {"date": "2022-09-27", "10代以下": 0.88, "20代": 0.99, "30代": 0.91, "40代": 0.93, "50代": 0.96, "60代以上": 0.97},
      {"date": "2022-09-28", "10代以下": 0.91, "20代": 1.00, "30代": 0.91, "40代": 0.92, "50代": 0.95, "60代以上": 0.98},
      {"date": "2022-09-30", "10代以下": 0.86, "20代": 0.95, "30代": 0.88, "40代": 0.89, "50代": 0.91, "60代以上": 0.94},
      {"date": "2022-10-02", "10代以下": 0.81, "20代": 0.90, "30代": 0.80, "40代": 0.82, "50代": 0.86, "60代以上": 0.86},
      {"date": "2022-10-04", "10代以下": 0.79, "20代": 0.85, "30代": 0.79, "40代": 0.80, "50代": 0.85, "60代以上": 0.85},
      {"date": "2022-10-06", "10代以下": 0.81, "20代": 0.85, "30代": 0.80, "40代": 0.81, "50代": 0.86, "60代以上": 0.84},
      {"date": "2022-10-08", "10代以下": 0.84, "20代": 0.82, "30代": 0.82, "40代": 0.83, "50代": 0.85, "60代以上": 0.83},
      {"date": "2022-10-10", "10代以下": 0.90, "20代": 0.88, "30代": 0.88, "40代": 0.88, "50代": 0.91, "60代以上": 0.89},
      {"date": "2022-10-11", "10代以下": 0.83, "20代": 0.81, "30代": 0.83, "40代": 0.83, "50代": 0.83, "60代以上": 0.82},
      {"date": "2022-10-13", "10代以下": 0.89, "20代": 0.88, "30代": 0.90, "40代": 0.90, "50代": 0.90, "60代以上": 0.89},
      {"date": "2022-10-15", "10代以下": 0.96, "20代": 0.96, "30代": 0.96, "40代": 0.96, "50代": 0.96, "60代以上": 0.97},
      {"date": "2022-10-16", "10代以下": 0.99, "20代": 1.01, "30代": 0.98, "40代": 0.99, "50代": 0.99, "60代以上": 1.01},
      {"date": "2022-10-17", "10代以下": 1.06, "20代": 1.09, "30代": 1.06, "40代": 1.06, "50代": 1.07, "60代以上": 1.09},
      {"date": "2022-10-18", "10代以下": 1.14, "20代": 1.17, "30代": 1.13, "40代": 1.14, "50代": 1.14, "60代以上": 1.17},
      {"date": "2022-10-20", "10代以下": 1.07, "20代": 1.08, "30代": 1.06, "40代": 1.07, "50代": 1.07, "60代以上": 1.11},
      {"date": "2022-10-22", "10代以下": 1.02, "20代": 1.00, "30代": 1.02, "40代": 1.03, "50代": 1.04, "60代以上": 1.06},
      {"date": "2022-10-24", "10代以下": 1.00, "20代": 0.98, "30代": 1.00, "40代": 1.00, "50代": 1.02, "60代以上": 1.04},
      {"date": "2022-10-25", "10代以下": 0.97, "20代": 0.97, "30代": 0.98, "40代": 0.98, "50代": 0.99, "60代以上": 1.00},
      {"date": "2022-10-27", "10代以下": 1.01, "20代": 1.02, "30代": 1.03, "40代": 1.03, "50代": 1.02, "60代以上": 1.03},
      {"date": "2022-10-29", "10代以下": 1.06, "20代": 1.07, "30代": 1.07, "40代": 1.07, "50代": 1.06, "60代以上": 1.07},
      {"date": "2022-10-31", "10代以下": 1.08, "20代": 1.10, "30代": 1.09, "40代": 1.09, "50代": 1.08, "60代以上": 1.10},
      {"date": "2022-11-02", "10代以下": 1.12, "20代": 1.14, "30代": 1.12, "40代": 1.12, "50代": 1.12, "60代以上": 1.13},
      {"date": "2022-11-04", "10代以下": 1.16, "20代": 1.19, "30代": 1.17, "40代": 1.17, "50代": 1.16, "60代以上": 1.16},
      {"date": "2022-11-06", "10代以下": 1.19, "20代": 1.22, "30代": 1.20, "40代": 1.20, "50代": 1.19, "60代以上": 1.19},
      {"date": "2022-11-08", "10代以下": 1.18, "20代": 1.25, "30代": 1.18, "40代": 1.19, "50代": 1.18, "60代以上": 1.19},
      {"date": "2022-11-10", "10代以下": 1.16, "20代": 1.23, "30代": 1.16, "40代": 1.17, "50代": 1.15, "60代以上": 1.17},
      {"date": "2022-11-11", "10代以下": 1.20, "20代": 1.26, "30代": 1.21, "40代": 1.21, "50代": 1.21, "60代以上": 1.25},
      {"date": "2022-11-13", "10代以下": 1.12, "20代": 1.17, "30代": 1.14, "40代": 1.14, "50代": 1.14, "60代以上": 1.18},
      {"date": "2022-11-15", "10代以下": 1.11, "20代": 1.11, "30代": 1.12, "40代": 1.12, "50代": 1.11, "60代以上": 1.15},
      {"date": "2022-11-17", "10代以下": 1.08, "20代": 1.06, "30代": 1.09, "40代": 1.09, "50代": 1.09, "60代以上": 1.11},
      {"date": "2022-11-19", "10代以下": 1.08, "20代": 1.03, "30代": 1.08, "40代": 1.08, "50代": 1.07, "60代以上": 1.08},
      {"date": "2022-11-21", "10代以下": 1.07, "20代": 1.02, "30代": 1.08, "40代": 1.08, "50代": 1.07, "60代以上": 1.06},
      {"date": "2022-11-23", "10代以下": 1.08, "20代": 1.02, "30代": 1.07, "40代": 1.07, "50代": 1.05, "60代以上": 1.05},
      {"date": "2022-11-24", "10代以下": 1.02, "20代": 1.00, "30代": 1.05, "40代": 1.04, "50代": 1.01, "60代以上": 1.03},
      {"date": "2022-11-26", "10代以下": 1.09, "20代": 1.07, "30代": 1.09, "40代": 1.09, "50代": 1.06, "60代以上": 1.05},
      {"date": "2022-11-28", "10代以下": 1.10, "20代": 1.09, "30代": 1.10, "40代": 1.10, "50代": 1.07, "60代以上": 1.06},
      {"date": "2022-11-30", "10代以下": 1.11, "20代": 1.10, "30代": 1.10, "40代": 1.10, "50代": 1.06, "60代以上": 1.08},
      {"date": "2022-12-01", "10代以下": 1.15, "20代": 1.12, "30代": 1.16, "40代": 1.15, "50代": 1.13, "60代以上": 1.12}
    ]
  },
  "spacing": 23,
  "resolve": {
    "scale": {"color": "independent", "strokeDash": "independent", "strokeWidth": "independent"},
    "legend": {"color": "independent", "strokeDash": "independent"}
  },
  "vconcat": [
    {
      "width": 1571,
      "height": 324,
      "encoding": {
        "x": {
          "field": "date",
          "type": "temporal",
          "title": null,
          "scale": {
            "type": "utc",
            "domain": [{"year": 2022, "month": 1, "date": 1, "utc": true}, {"year": 2022, "month": 12, "date": 31, "utc": true}]
          },
          "axis": {
            "format": "%-m/%-d",
            "labelPadding": 17,
            "labelFlush": false,
            "values": [
              {"year": 2022, "month": 1, "date": 1, "utc": true}, {"year": 2022, "month": 1, "date": 15, "utc": true},
              {"year": 2022, "month": 1, "date": 29, "utc": true}, {"year": 2022, "month": 2, "date": 12, "utc": true},
              {"year": 2022, "month": 2, "date": 26, "utc": true}, {"year": 2022, "month": 3, "date": 12, "utc": true},
              {"year": 2022, "month": 3, "date": 26, "utc": true}, {"year": 2022, "month": 4, "date": 9, "utc": true},
              {"year": 2022, "month": 4, "date": 23, "utc": true}, {"year": 2022, "month": 5, "date": 7, "utc": true},
              {"year": 2022, "month": 5, "date": 21, "utc": true}, {"year": 2022, "month": 6, "date": 4, "utc": true},
              {"year": 2022, "month": 6, "date": 18, "utc": true}, {"year": 2022, "month": 7, "date": 2, "utc": true},
              {"year": 2022, "month": 7, "date": 16, "utc": true}, {"year": 2022, "month": 7, "date": 30, "utc": true},
              {"year": 2022, "month": 8, "date": 13, "utc": true}, {"year": 2022, "month": 8, "date": 27, "utc": true},
              {"year": 2022, "month": 9, "date": 10, "utc": true}, {"year": 2022, "month": 9, "date": 24, "utc": true},
              {"year": 2022, "month": 10, "date": 8, "utc": true}, {"year": 2022, "month": 10, "date": 22, "utc": true},
              {"year": 2022, "month": 11, "date": 5, "utc": true}, {"year": 2022, "month": 11, "date": 19, "utc": true},
              {"year": 2022, "month": 12, "date": 3, "utc": true}, {"year": 2022, "month": 12, "date": 17, "utc": true},
              {"year": 2022, "month": 12, "date": 31, "utc": true}
            ]
          }
        },
        "y": {
          "field": "value",
          "type": "quantitative",
          "title": null,
          "scale": {"domain": [0, 10000], "nice": false},
          "axis": {"values": [0, 2000, 4000, 6000, 8000, 10000], "format": "d", "labelPadding": 19}
        }
      },
      "layer": [
        {
          "data": {"name": "cases"},
          "transform": [{"fold": ["10代以下", "20代", "30代", "40代", "50代", "60代以上"], "as": ["group", "value"]}],
          "mark": {"type": "line", "interpolate": "monotone", "clip": true},
          "encoding": {
            "color": {
              "field": "group",
              "type": "nominal",
              "scale": {"domain": ["10代以下", "20代", "30代", "40代", "50代", "60代以上"], "range": ["#000000", "#000000", "#70AD47", "#70AD47", "#C00000", "#C00000"]},
              "legend": {"legendX": 1152, "legendY": 1, "symbolType": "M-1.3,0H1.3", "symbolSize": 1682, "labelOffset": 11, "columnPadding": 65, "rowPadding": 0}
            },
            "strokeDash": {
              "field": "group",
              "type": "nominal",
              "scale": {"domain": ["10代以下", "20代", "30代", "40代", "50代", "60代以上"], "range": [[1, 0], [2, 4], [1, 0], [2, 4], [1, 0], [2, 4]]},
              "legend": {"legendX": 1152, "legendY": 1, "symbolType": "M-1.3,0H1.3", "symbolSize": 1682, "labelOffset": 11, "columnPadding": 65, "rowPadding": 0}
            },
            "strokeWidth": {
              "field": "group",
              "type": "nominal",
              "scale": {"domain": ["10代以下", "20代", "30代", "40代", "50代", "60代以上"], "range": [3.5, 3, 3.5, 3, 3.5, 3]},
              "legend": null
            }
          }
        },
        {
          "data": {"values": [{"date": "2022-01-07", "value": 8770, "label": "年代別新規陽性者数"}]},
          "mark": {"type": "text", "align": "left", "baseline": "alphabetic", "font": "Noto Sans CJK JP", "fontSize": 29, "color": "black"},
          "encoding": {"text": {"field": "label"}}
        },
        {
          "data": {"values": [{"date": "2022-10-06", "value": 3440, "label": "１０代以下が牽引"}]},
          "mark": {"type": "text", "align": "left", "baseline": "alphabetic", "font": "Noto Sans CJK JP", "fontSize": 36, "color": "black"},
          "encoding": {"text": {"field": "label"}}
        }
      ]
    },
    {
      "width": 1571,
      "height": 445,
      "encoding": {
        "x": {
          "field": "date",
          "type": "temporal",
          "title": null,
          "scale": {
            "type": "utc",
            "domain": [{"year": 2022, "month": 1, "date": 1, "utc": true}, {"year": 2022, "month": 12, "date": 31, "utc": true}]
          },
          "axis": {
            "format": "%-m/%-d",
            "labelPadding": 18,
            "labelFlush": false,
            "values": [
              {"year": 2022, "month": 1, "date": 1, "utc": true}, {"year": 2022, "month": 1, "date": 15, "utc": true},
              {"year": 2022, "month": 1, "date": 29, "utc": true}, {"year": 2022, "month": 2, "date": 12, "utc": true},
              {"year": 2022, "month": 2, "date": 26, "utc": true}, {"year": 2022, "month": 3, "date": 12, "utc": true},
              {"year": 2022, "month": 3, "date": 26, "utc": true}, {"year": 2022, "month": 4, "date": 9, "utc": true},
              {"year": 2022, "month": 4, "date": 23, "utc": true}, {"year": 2022, "month": 5, "date": 7, "utc": true},
              {"year": 2022, "month": 5, "date": 21, "utc": true}, {"year": 2022, "month": 6, "date": 4, "utc": true},
              {"year": 2022, "month": 6, "date": 18, "utc": true}, {"year": 2022, "month": 7, "date": 2, "utc": true},
              {"year": 2022, "month": 7, "date": 16, "utc": true}, {"year": 2022, "month": 7, "date": 30, "utc": true},
              {"year": 2022, "month": 8, "date": 13, "utc": true}, {"year": 2022, "month": 8, "date": 27, "utc": true},
              {"year": 2022, "month": 9, "date": 10, "utc": true}, {"year": 2022, "month": 9, "date": 24, "utc": true},
              {"year": 2022, "month": 10, "date": 8, "utc": true}, {"year": 2022, "month": 10, "date": 22, "utc": true},
              {"year": 2022, "month": 11, "date": 5, "utc": true}, {"year": 2022, "month": 11, "date": 19, "utc": true},
              {"year": 2022, "month": 12, "date": 3, "utc": true}, {"year": 2022, "month": 12, "date": 17, "utc": true},
              {"year": 2022, "month": 12, "date": 31, "utc": true}
            ]
          }
        },
        "y": {
          "field": "value",
          "type": "quantitative",
          "title": null,
          "scale": {"domain": [0.6, 2], "nice": false},
          "axis": {"values": [0.6, 0.8, 1, 1.2, 1.4, 1.6, 1.8, 2], "format": "~g", "labelPadding": 19}
        }
      },
      "layer": [
        {
          "data": {"name": "rt"},
          "transform": [{"fold": ["10代以下", "20代", "30代", "40代", "50代", "60代以上"], "as": ["group", "value"]}],
          "mark": {"type": "line", "interpolate": "monotone", "clip": true},
          "encoding": {
            "color": {
              "field": "group",
              "type": "nominal",
              "scale": {"domain": ["10代以下", "20代", "30代", "40代", "50代", "60代以上"], "range": ["#000000", "#000000", "#70AD47", "#70AD47", "#C00000", "#C00000"]},
              "legend": {"legendX": 1191, "legendY": 17, "symbolType": "stroke", "symbolSize": 2800, "labelOffset": 5, "columnPadding": 30, "rowPadding": 4}
            },
            "strokeDash": {
              "field": "group",
              "type": "nominal",
              "scale": {"domain": ["10代以下", "20代", "30代", "40代", "50代", "60代以上"], "range": [[1, 0], [2, 4], [1, 0], [2, 4], [1, 0], [2, 4]]},
              "legend": {"legendX": 1191, "legendY": 17, "symbolType": "stroke", "symbolSize": 2800, "labelOffset": 5, "columnPadding": 30, "rowPadding": 4}
            },
            "strokeWidth": {
              "field": "group",
              "type": "nominal",
              "scale": {"domain": ["10代以下", "20代", "30代", "40代", "50代", "60代以上"], "range": [3.5, 3, 3.5, 3, 3.5, 3]},
              "legend": null
            }
          }
        },
        {
          "data": {"values": [{"date": "2022-01-24", "value": 1.878, "label": "年代別実効再生産数"}]},
          "mark": {"type": "text", "align": "left", "baseline": "alphabetic", "font": "Noto Sans CJK JP", "fontSize": 29, "color": "black"},
          "encoding": {"text": {"field": "label"}}
        },
        {
          "data": {"values": [
            {"date": "2022-09-06", "value": 1.382, "label": "スポーツの日"},
            {"date": "2022-09-06", "value": 1.241, "label": "など３連休"},
            {"date": "2022-11-06", "value": 1.382, "label": "ハロウィン"}
          ]},
          "mark": {"type": "text", "align": "left", "baseline": "alphabetic", "font": "Noto Sans CJK JP", "fontSize": 36, "color": "black"},
          "encoding": {"text": {"field": "label"}}
        },
        {
          "data": {"values": [
            {"date": "2022-10-18", "value": 1.081, "event": "スポーツの日など３連休"},
            {"date": "2022-11-10", "value": 1.19, "event": "ハロウィン"}
          ]},
          "mark": {"type": "point", "shape": "circle", "filled": false, "size": 4900, "stroke": "#FF0000", "strokeWidth": 4.5, "opacity": 1}
        }
      ]
    }
  ]
}
